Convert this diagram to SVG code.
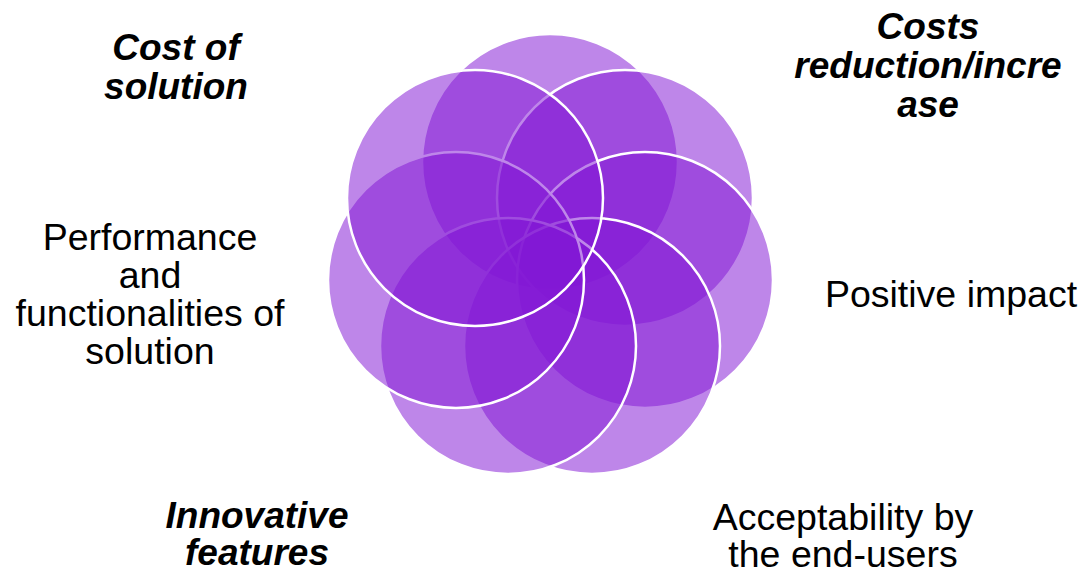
<svg xmlns="http://www.w3.org/2000/svg" width="1084" height="574" viewBox="0 0 1084 574">
<style>
.c{fill:rgb(131,23,212);fill-opacity:0.52;stroke:#ffffff;stroke-width:2.5}
.t{font-family:"Liberation Sans",Arial,sans-serif;font-size:37.5px;fill:#000;text-anchor:middle}
.b{font-weight:bold;font-style:italic;font-size:37px}
</style>
<rect width="1084" height="574" fill="#ffffff"/>
<g id="circles">
<circle id="c-top" class="c" cx="550" cy="162" r="128"/>
<circle id="c-topright" class="c" cx="625" cy="198" r="128"/>
<circle id="c-right" class="c" cx="645" cy="280" r="128"/>
<circle id="c-bottomright" class="c" cx="592" cy="346" r="128"/>
<circle id="c-bottomleft" class="c" cx="508" cy="346" r="128"/>
<circle id="c-left" class="c" cx="456" cy="280" r="128"/>
<circle id="c-topleft" class="c" cx="475" cy="198" r="128"/>
</g>
<g id="connectors"></g>
<g id="label-cost-of-solution"><text class="t b"><tspan x="176" y="60">Cost of</tspan><tspan x="176" y="99">solution</tspan></text></g>
<g id="label-costs-reduction"><text class="t b"><tspan x="928" y="39">Costs</tspan><tspan x="928" y="78">reduction/incre</tspan><tspan x="928" y="117">ase</tspan></text></g>
<g id="label-performance"><text class="t"><tspan x="150" y="250">Performance</tspan><tspan x="150" y="288">and</tspan><tspan x="150" y="326">functionalities of</tspan><tspan x="150" y="364">solution</tspan></text></g>
<g id="label-positive-impact"><text class="t"><tspan x="951" y="307">Positive impact</tspan></text></g>
<g id="label-acceptability"><text class="t"><tspan x="843" y="530">Acceptability by</tspan><tspan x="843" y="567">the end-users</tspan></text></g>
<g id="label-innovative"><text class="t b"><tspan x="257" y="528">Innovative</tspan><tspan x="257" y="565">features</tspan></text></g>
</svg>
